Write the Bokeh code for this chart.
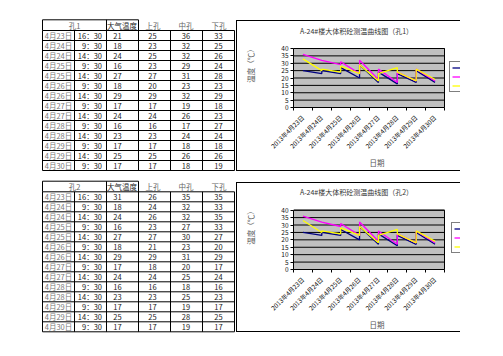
from bokeh.plotting import figure
from bokeh.models import Range1d, FixedTicker, Legend, LegendItem, Label, Spacer
from bokeh.layouts import row, column
from bokeh.embed import file_html
from bokeh.resources import INLINE
from bokeh.core.properties import value

FONT = "Noto Sans CJK SC"

# ---------------- data ----------------
dates = ["4月23日", "4月24日", "4月24日", "4月25日", "4月25日", "4月26日", "4月26日",
         "4月27日", "4月27日", "4月28日", "4月28日", "4月29日", "4月29日", "4月30日"]
times = ["16：30", "9：30", "14：30", "9：30", "14：30", "9：30", "14：30",
         "9：30", "14：30", "9：30", "14：30", "9：30", "14：30", "9：30"]
headers = ["大气温度", "上孔", "中孔", "下孔"]

hole1_air = [21, 18, 24, 16, 27, 18, 29, 17, 24, 16, 23, 17, 25, 17]
hole1_upper = [25, 23, 25, 23, 27, 20, 29, 17, 24, 16, 23, 17, 25, 17]
hole1_middle = [36, 32, 32, 29, 31, 23, 32, 19, 26, 17, 24, 18, 26, 18]
hole1_lower = [33, 25, 26, 24, 28, 23, 29, 18, 23, 27, 24, 18, 26, 19]

hole2_air = [31, 18, 24, 16, 27, 18, 29, 17, 24, 16, 23, 17, 25, 17]
hole2_upper = [26, 24, 26, 23, 27, 21, 29, 18, 24, 16, 23, 17, 25, 17]
hole2_middle = [35, 32, 32, 27, 30, 23, 31, 20, 25, 18, 25, 19, 28, 19]
hole2_lower = [35, 33, 35, 33, 27, 20, 29, 17, 24, 16, 23, 17, 25, 17]

chart_days = ["2013年4月23日", "2013年4月24日", "2013年4月25日", "2013年4月26日",
              "2013年4月27日", "2013年4月28日", "2013年4月29日", "2013年4月30日"]
series_names = ["上孔", "中孔", "下孔"]
y_ticks = [0, 5, 10, 15, 20, 25, 30, 35, 40]

chart1_upper = [25, 23, 25, 23, 27, 20, 29, 17, 24, 16, 23, 17, 25, 17]
chart1_middle = [36, 32, 32, 29, 31, 23, 32, 19, 26, 17, 24, 18, 26, 18]
chart1_lower = [33, 25, 26, 24, 28, 23, 29, 18, 23, 27, 24, 18, 26, 19]

chart2_upper = [25, 23, 25, 23, 27, 20, 29, 17, 24, 16, 23, 17, 25, 17]
chart2_middle = [36, 32, 32, 29, 31, 23, 32, 19, 26, 17, 24, 18, 26, 18]
chart2_lower = [33, 25, 26, 24, 28, 23, 29, 18, 23, 27, 24, 18, 26, 19]

SERIES_COLORS = ["#000080", "#FF00FF", "#FFFF00"]

# ---------------- tables ----------------
COL_EDGES = [42, 74, 106, 138, 170, 202, 234]
NUM_X = [117, 152, 185.5, 218]
HEAD_X = [74, 121.5, 152.5, 185.5, 218.5]
ROW_H = 10

left = figure(width=236, height=340, x_range=Range1d(0, 236), y_range=Range1d(340, 0),
              output_backend="svg", toolbar_location=None,
              x_axis_location=None, y_axis_location=None, min_border=0)
left.grid.visible = False
left.outline_line_color = None


def draw_table(p, top, header_bottom, label, cols):
    n = len(dates)
    bottom = header_bottom + n * ROW_H
    x0, y0, x1, y1 = [], [], [], []

    def seg(a, b, c, d):
        x0.append(a); y0.append(b); x1.append(c); y1.append(d)

    seg(COL_EDGES[0], top, COL_EDGES[3], top)
    for k in range(n + 1):
        yy = header_bottom + k * ROW_H
        seg(COL_EDGES[0], yy, COL_EDGES[-1], yy)
    for xx in (COL_EDGES[0], COL_EDGES[2], COL_EDGES[3]):
        seg(xx, top, xx, header_bottom)
    for xx in COL_EDGES:
        seg(xx, header_bottom, xx, bottom)
    p.segment(x0=x0, y0=y0, x1=x1, y1=y1, line_color="black", line_width=1)

    hy = (top + header_bottom) / 2
    p.text(x=HEAD_X, y=[hy] * 5, text=[label] + headers,
           text_color=["#666666", "#222222", "#666666", "#666666", "#666666"],
           text_font=value(FONT), text_font_size="7.5px",
           text_align="center", text_baseline="middle")
    ys = [header_bottom + ROW_H * (k + 0.5) for k in range(n)]
    p.text(x=[58] * n, y=ys, text=dates, text_color="#7a7a7a",
           text_font=value(FONT), text_font_size="7.5px",
           text_align="center", text_baseline="middle")
    p.text(x=[101.5] * n, y=ys, text=times, text_color="#222222",
           text_font=value(FONT), text_font_size="7.5px",
           text_align="right", text_baseline="middle")
    for cx, vals in zip(NUM_X, cols):
        p.text(x=[cx] * n, y=ys, text=[str(v) for v in vals], text_color="#222222",
               text_font=value(FONT), text_font_size="7.5px",
               text_align="center", text_baseline="middle")


draw_table(left, 19.3, 30, "孔1", [hole1_air, hole1_upper, hole1_middle, hole1_lower])
draw_table(left, 180.7, 191.3, "孔2", [hole2_air, hole2_upper, hole2_middle, hole2_lower])


# ---------------- charts ----------------
CHART_W = 224
PLOT_LEFT = 57      # px from chart left edge to plot area
PLOT_W = 151        # plot area width in px


def make_chart(title, upper, middle, lower, height, plot_top, plot_h, title_y, legend_xy):
    n = len(chart_days)
    ymax = y_ticks[-1]
    frame_w = CHART_W - PLOT_LEFT
    frame_h = plot_top + plot_h
    p = figure(width=CHART_W, height=height,
               x_range=Range1d(0, n * frame_w / PLOT_W),
               y_range=Range1d(0, ymax * frame_h / plot_h),
               output_backend="svg", toolbar_location=None,
               min_border_left=PLOT_LEFT, min_border_right=0,
               min_border_top=0, min_border_bottom=height - frame_h)
    p.background_fill_alpha = 0
    p.border_fill_alpha = 0
    p.outline_line_color = None
    p.styles = {"box-shadow": "inset 1px 0 0 0 #000, inset 0 1px 0 0 #000, inset 0 -1px 0 0 #000"}

    # plot area
    p.quad(left=0, right=n, bottom=0, top=ymax, fill_color="#C0C0C0", line_color="black", line_width=1)
    p.segment(x0=[0] * len(y_ticks), x1=[n] * len(y_ticks), y0=y_ticks, y1=y_ticks,
              line_color="black", line_width=1)
    p.grid.visible = False

    xt = FixedTicker(ticks=[i + 0.5 for i in range(n)], minor_ticks=list(range(n + 1)))
    yt = FixedTicker(ticks=y_ticks)
    xa = p.xaxis[0]
    ya = p.yaxis[0]
    xa.bounds = (0, n)
    xa.ticker = xt
    xa.major_label_overrides = {i + 0.5: d for i, d in enumerate(chart_days)}
    xa.major_label_orientation = 0.785398
    xa.major_tick_line_color = None
    xa.major_tick_out = 3
    xa.major_label_standoff = 6
    xa.minor_tick_line_color = "black"
    xa.minor_tick_out = 3
    xa.minor_tick_in = 0
    xa.axis_line_color = "black"
    xa.major_label_text_font = FONT
    xa.major_label_text_font_size = "6.3px"
    xa.major_label_text_color = "#111111"
    xa.axis_label = "日期"
    xa.axis_label_text_font = FONT
    xa.axis_label_text_font_size = "7.5px"
    xa.axis_label_text_font_style = "normal"
    xa.axis_label_text_color = "#555555"
    xa.axis_label_standoff = 0

    ya.bounds = (0, ymax)
    ya.ticker = yt
    ya.major_tick_out = 3
    ya.major_tick_in = 0
    ya.major_label_standoff = 2
    ya.minor_tick_line_color = None
    ya.axis_line_color = "black"
    ya.major_tick_line_color = "black"
    ya.major_label_text_font = FONT
    ya.major_label_text_font_size = "6.5px"
    ya.major_label_text_color = "#111111"
    ya.axis_label = "温度（℃）"
    ya.axis_label_text_font = FONT
    ya.axis_label_text_font_size = "7.5px"
    ya.axis_label_text_font_style = "normal"
    ya.axis_label_text_color = "#555555"
    ya.axis_label_standoff = 22

    xs = [chart_days.index("2013年" + d) + 0.5 for d in dates]
    rends = []
    for vals, col in zip((upper, middle, lower), SERIES_COLORS):
        rends.append(p.line(xs, vals, line_color=col, line_width=1.3))

    legend = Legend(items=[LegendItem(label=nm, renderers=[r]) for nm, r in zip(series_names, rends)],
                    location=legend_xy, orientation="vertical",
                    background_fill_color="white", background_fill_alpha=1,
                    border_line_color="black", border_line_width=1,
                    label_text_font=FONT, label_text_font_size="5px",
                    glyph_width=20, glyph_height=7, label_height=7,
                    spacing=2, padding=2, margin=0, label_standoff=4)
    p.add_layout(legend)

    p.add_layout(Label(x=63, y=title_y, x_units="screen", y_units="screen", text=title,
                       text_font=FONT, text_font_size="7px", text_color="#333333",
                       text_align="center", text_baseline="middle"))
    return p


c1 = make_chart("A-24#楼大体积砼测温曲线图（孔1）", chart1_upper, chart1_middle, chart1_lower,
                151, 28, 59, 76.5, (156, 14.7))
c2 = make_chart("A-24#楼大体积砼测温曲线图（孔2）", chart2_upper, chart2_middle, chart2_lower,
                150, 28, 60, 77.5, (158, 16))

right = column(Spacer(width=CHART_W, height=20), c1, Spacer(width=CHART_W, height=11), c2)
layout = row(left, right)
open("out.html", "w").write(file_html(layout, INLINE))
